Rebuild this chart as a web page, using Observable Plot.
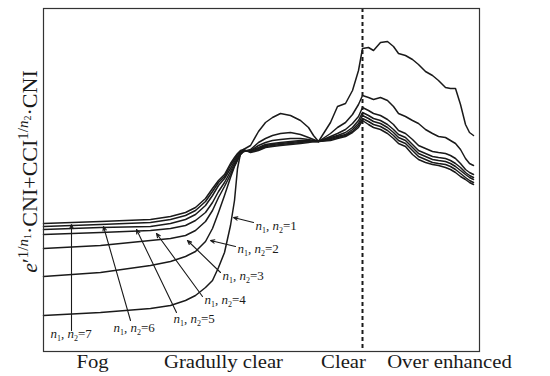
<!DOCTYPE html>
<html>
<head>
<meta charset="utf-8">
<script src="https://cdn.jsdelivr.net/npm/d3@7"></script>
<script src="https://cdn.jsdelivr.net/npm/@observablehq/plot@0.6"></script>
<style>
  html, body { margin: 0; padding: 0; background: #fff; }
  #chart { width: 550px; height: 376px; }
  svg { font-family: "Liberation Serif", "DejaVu Serif", serif; }
</style>
</head>
<body>
<div id="chart"></div>
<script>
// sample positions (arbitrary time units)
const xs = [0, 57, 107, 127, 142, 152, 162, 169, 175, 181, 187, 191, 194, 197, 200, 207, 215, 222, 229, 237, 247, 257, 265, 270, 275, 287, 294, 302, 309, 315, 319, 325, 330, 337, 344, 350, 355, 362, 369, 375, 382, 389, 395, 402, 407, 412, 417, 422, 426, 430];

// index values for n1 = n2 = 1 ... 7
const n1 = [36, 39, 43, 46, 51, 56, 64, 71, 84, 99, 126, 151, 183, 198, 202, 206, 220, 229, 234, 238, 236, 231, 224, 216, 210, 229, 245, 248, 261, 281, 303, 304, 301, 309, 310, 305, 298, 296, 292, 287, 280, 276, 271, 264, 263, 263, 247, 227, 219, 216];
const n2 = [75, 79, 86, 90, 95, 100, 110, 123, 139, 156, 174, 185, 191, 197, 200, 202, 209, 213, 216, 218, 219, 217, 214, 212, 210, 218, 224, 229, 237, 247, 256, 254, 252, 254, 251, 245, 238, 235, 231, 228, 222, 218, 215, 214, 211, 208, 202, 193, 188, 186];
const n3 = [103, 106, 111, 113, 116, 121, 130, 141, 154, 165, 177, 186, 192, 197, 200, 201, 206, 209, 211, 212, 213, 213, 212, 211, 210, 215, 218, 222, 228, 235, 244, 241, 238, 236, 232, 227, 221, 218, 212, 206, 203, 200, 199, 198, 196, 193, 188, 182, 179, 177];
const n4 = [117, 119, 121, 123, 126, 131, 139, 149, 160, 169, 180, 188, 193, 198, 200, 201, 204, 207, 208, 209, 210, 211, 211, 210, 210, 214, 216, 219, 224, 231, 239, 236, 233, 231, 227, 222, 217, 214, 207, 201, 198, 195, 194, 193, 191, 188, 184, 179, 176, 174];
const n5 = [122, 124, 125, 128, 132, 137, 146, 156, 166, 173, 183, 190, 195, 199, 201, 200, 203, 206, 207, 208, 209, 210, 210, 210, 210, 213, 215, 217, 222, 228, 236, 233, 230, 228, 224, 219, 214, 211, 204, 198, 195, 192, 191, 190, 188, 185, 181, 177, 174, 172];
const n6 = [125, 127, 129, 132, 136, 141, 150, 160, 169, 175, 186, 192, 197, 200, 201, 200, 202, 205, 206, 207, 208, 209, 210, 210, 210, 212, 214, 216, 220, 226, 233, 230, 227, 225, 221, 216, 211, 208, 201, 195, 192, 189, 188, 187, 185, 182, 178, 174, 171, 169];
const n7 = [128, 130, 132, 135, 139, 144, 153, 163, 171, 177, 188, 194, 198, 201, 202, 199, 201, 204, 205, 206, 207, 208, 209, 210, 210, 211, 213, 215, 219, 224, 231, 227, 224, 222, 218, 213, 208, 205, 197, 192, 189, 187, 186, 184, 182, 179, 175, 172, 169, 167];

// phase labels along the x axis
const phaseLabels = ["Fog", "Gradully clear", "Clear", "Over enhanced"];
const phaseX = [49, 180, 300, 406];

// transition (clear) moment
const clearX = [319];

// annotation for each curve: n value, label anchor and arrow tip (data units)
const annN = [1, 2, 3, 4, 5, 6, 7];
const annLabelX = [212, 194, 179, 161, 130, 70, 7];
const annLabelY = [126, 103, 76, 52, 33, 24, 18];
const annFromX = [210, 192, 177, 159, 133, 87, 28];
const annFromY = [129, 105, 79, 55, 39, 31, 21];
const annTipX = [190, 167, 144, 113, 93, 60, 28];
const annTipY = [134, 111, 111, 118, 122, 125, 127];

const seriesList = [n1, n2, n3, n4, n5, n6, n7];
const data = [];
seriesList.forEach((s, k) => s.forEach((v, i) => data.push({x: xs[i], y: v, n: k + 1})));
const ann = annN.map((n, i) => ({n, lx: annLabelX[i], ly: annLabelY[i], x1: annFromX[i], y1: annFromY[i], x2: annTipX[i], y2: annTipY[i]}));
const phases = phaseLabels.map((t, i) => ({t, x: phaseX[i]}));

const ink = "#1a1a1a";
const plot = Plot.plot({
  width: 550,
  height: 376,
  marginLeft: 43,
  marginRight: 71,
  marginTop: 8,
  marginBottom: 25,
  x: {domain: [0, 436], axis: null},
  y: {domain: [0, 343], axis: null},
  marks: [
    Plot.ruleX(clearX, {stroke: ink, strokeWidth: 2, strokeDasharray: "4,3"}),
    Plot.line(data, {x: "x", y: "y", z: "n", stroke: ink, strokeWidth: 1.5}),
    Plot.arrow(ann, {x1: "x1", y1: "y1", x2: "x2", y2: "y2", stroke: ink, strokeWidth: 1.1, headLength: 6, headAngle: 45}),
    Plot.text(ann, {x: "lx", y: "ly", text: d => "n1, n2=" + d.n, textAnchor: "start", fontSize: 13, fill: ink}),
    Plot.text(phases, {x: "x", text: "t", frameAnchor: "bottom", lineAnchor: "top", dy: 4, fontSize: 18, fill: ink}),
    Plot.frame({stroke: "#333", strokeWidth: 1.2})
  ]
});
document.getElementById("chart").appendChild(plot);

const svg = d3.select(plot);
svg.style("font-family", '"Liberation Serif", "DejaVu Serif", serif');

function writeSegments(textSel, segs) {
  textSel.text(null);
  let prev = 0;
  segs.forEach(s => {
    const sh = s.shift || 0;
    const ts = textSel.append("tspan").text(s.t).attr("font-size", s.size);
    if (sh !== prev) ts.attr("dy", sh - prev);
    if (s.italic) ts.attr("font-style", "italic");
    prev = sh;
  });
}

// rich annotation labels
const textGroups = svg.selectAll('g[aria-label="text"]').nodes();
d3.select(textGroups[0]).selectAll("text").each(function(d, i) {
  const n = annN[i];
  writeSegments(d3.select(this), [
    {t: "n", size: 13, italic: true},
    {t: "1", size: 8, shift: 3},
    {t: ", ", size: 13, shift: 0},
    {t: "n", size: 13, italic: true},
    {t: "2", size: 8, shift: 3},
    {t: "=" + n, size: 13, shift: 0}
  ]);
});

// stretch phase labels slightly
d3.select(textGroups[1]).selectAll("text").each(function() {
  const len = this.getComputedTextLength();
  d3.select(this).attr("textLength", len * 1.15).attr("lengthAdjust", "spacingAndGlyphs");
});

// y-axis label with super/subscripts
const yScale = plot.scale("y");
const yMid = (yScale.range[0] + yScale.range[1]) / 2 - 8;
const yl = svg.append("text")
  .attr("transform", `translate(${43 - 6},${yMid}) rotate(-90)`)
  .attr("text-anchor", "middle")
  .attr("fill", ink);
writeSegments(yl, [
  {t: "e", size: 22, italic: true},
  {t: "′", size: 22},
  {t: "1/", size: 15, shift: -9},
  {t: "n", size: 15, italic: true, shift: -9},
  {t: "1", size: 10, shift: -6},
  {t: "·CNI+CCI", size: 22, shift: 0},
  {t: "1/", size: 15, shift: -9},
  {t: "n", size: 15, italic: true, shift: -9},
  {t: "2", size: 10, shift: -6},
  {t: "·CNI", size: 22, shift: 0}
]);
</script>
</body>
</html>
